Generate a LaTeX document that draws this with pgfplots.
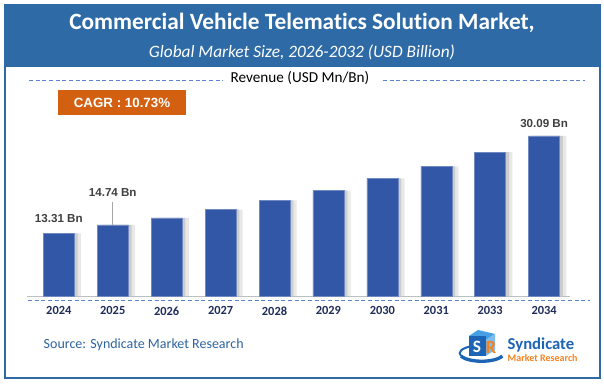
\documentclass[border=0pt]{standalone}
\usepackage{pgfplots}
\pgfplotsset{compat=1.18}
\usepackage{fontspec}
\setmainfont{Carlito}[Ligatures=NoCommon]
\newfontfamily\arial{Liberation Sans}
\definecolor{barblue}{RGB}{51,87,167}
\definecolor{hdrblue}{RGB}{46,107,166}
\definecolor{dashblue}{RGB}{90,130,205}
\definecolor{cagr}{RGB}{211,96,16}
\definecolor{navy}{RGB}{31,45,90}
\definecolor{lblgray}{RGB}{64,64,64}
\definecolor{srcblue}{RGB}{46,100,160}
\definecolor{logoorange}{RGB}{245,130,32}
\definecolor{logoblue}{RGB}{30,100,180}
\definecolor{logolight}{RGB}{70,160,230}
\pgfplotstableread{
x val
0 13.31
1 14.74
2 15.95
3 17.38
4 19.00
5 20.66
6 22.79
7 24.86
8 27.28
9 30.09
}\revtable
\begin{document}
\begin{tikzpicture}[x=0.75pt,y=0.75pt]
\useasboundingbox (0,0) rectangle (604,384);
\fill[white] (0,0) rectangle (604,384);
% header
\fill[hdrblue] (5,379) rectangle (600,317);
\node[text=white,font=\fontsize{17.5}{20}\selectfont\bfseries] at (302,361) {Commercial Vehicle Telematics Solution Market,};
\node[text=white,font=\fontsize{13}{15}\selectfont\itshape] at (302,332) {Global Market Size, 2026-2032 (USD Billion)};
% revenue line
\draw[dashblue,dash pattern=on 3pt off 2pt,line width=0.6pt] (29,304) -- (223,304);
\draw[dashblue,dash pattern=on 3pt off 2pt,line width=0.6pt] (383,304) -- (585,304);
\node[font=\fontsize{11.4}{13}\selectfont] at (300,306) {Revenue (USD Mn/Bn)};
% CAGR box
\fill[cagr] (58,294) rectangle (186,269);
\node[text=white,font=\arial\fontsize{10}{12}\selectfont\bfseries] at (122,281.5) {CAGR : 10.73\%};
% axis
\begin{axis}[
  at={(20.25pt,66pt)}, anchor=south west,
  width=407.25pt, height=132pt, scale only axis,
  xmin=-0.59, xmax=9.48, ymin=2.5, ymax=32.84,
  clip=false,
  axis x line=bottom, axis y line=none,
  x axis line style={draw=gray!50,-},
  xtick={0,...,9},
  xticklabels={2024,2025,2026,2027,2028,2029,2030,2031,2033,2034},
  major tick length=0pt,
  xticklabel style={font=\fontsize{9.3}{11}\selectfont\bfseries, text=navy, yshift=-4.5pt},
  ybar, bar width=23.25pt,
]
\addplot[fill=gray!18, draw=none, bar shift=5pt] table[x=x,y=val]{\revtable};
\addplot[fill=gray!40, draw=none, bar shift=2.5pt] table[x=x,y=val]{\revtable};
\addplot[fill=barblue, draw=barblue!70!white, line width=0.4pt, bar shift=0pt] table[x=x,y=val]{\revtable};
\node[text=lblgray,font=\arial\fontsize{8.7}{10}\selectfont\bfseries] at (axis cs:0,15.78) {13.31 Bn};
\node[text=lblgray,font=\arial\fontsize{8.7}{10}\selectfont\bfseries] at (axis cs:1,20.31) {14.74 Bn};
\node[text=lblgray,font=\arial\fontsize{8.7}{10}\selectfont\bfseries] at (axis cs:9,32.16) {30.09 Bn};
\draw[gray!70,line width=0.5pt] (axis cs:1,14.74) -- (axis cs:1,18.76);
\end{axis}
% bottom dashed line
\draw[dashblue,dash pattern=on 3pt off 2pt,line width=0.6pt] (28,84) -- (590,84);
% source
\node[anchor=west,text=srcblue,font=\fontsize{10.5}{12}\selectfont] at (39,39) {Source: Syndicate Market Research};
% logo
\draw[logoblue,line width=2.5pt] (461,28) arc[start angle=200,end angle=340,x radius=22,y radius=8];
\draw[logoblue,line width=1.5pt] (461,28) arc[start angle=200,end angle=120,x radius=22,y radius=8];
\fill[logolight] (469,48) -- (478,54) -- (495,50) -- (486,44) -- cycle;
\fill[logoblue] (469,48) rectangle (486,28);
\fill[logolight!70!white] (486,44) -- (495,50) -- (495,34) -- (486,28) -- cycle;
\node[text=white,font=\fontsize{13}{14}\selectfont\bfseries] at (477,37) {S};
\node[text=logoorange,font=\fontsize{14}{15}\selectfont\bfseries] at (491,37) {R};
\node[anchor=west,text=logoblue,font=\fontsize{12.5}{14}\selectfont\bfseries] at (503,39.5) {Syndicate};
\node[anchor=west,text=logoorange,font=\fontsize{7.5}{9}\selectfont\bfseries] at (503,25.5) {Market Research};
% outer border
\draw[hdrblue,line width=1.6pt] (5,379) rectangle (600,6);
\end{tikzpicture}
\end{document}
